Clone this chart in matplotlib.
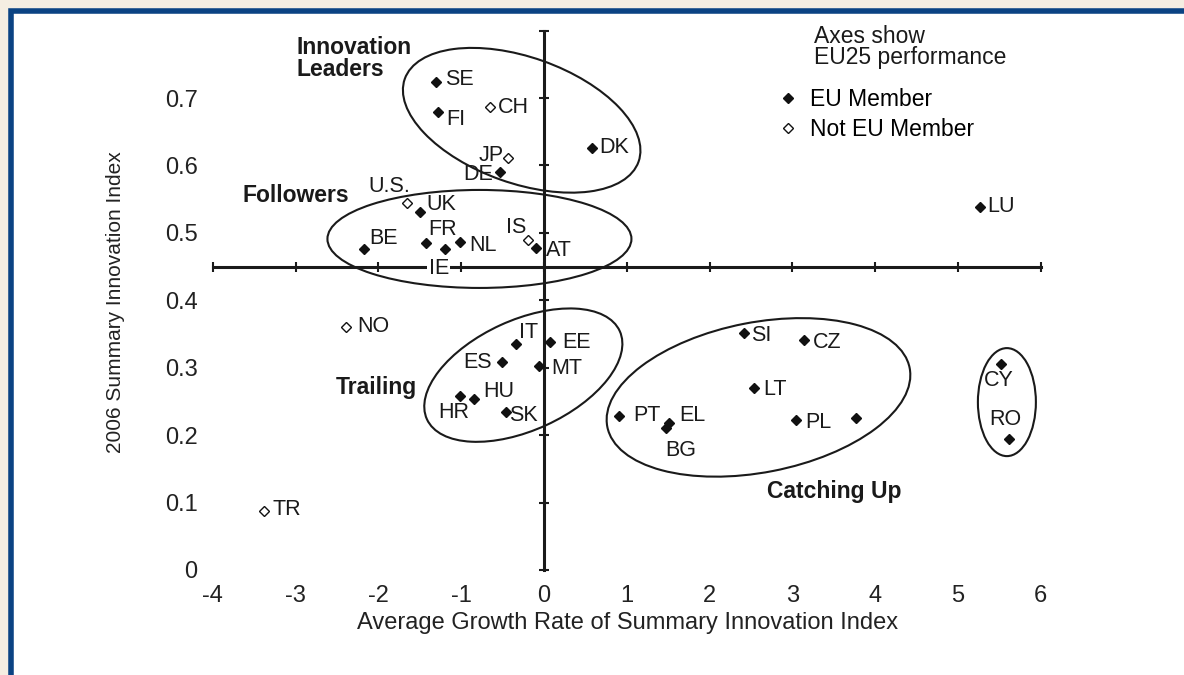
import matplotlib
matplotlib.use("Agg")
import matplotlib.pyplot as plt
import matplotlib.transforms as mtransforms
from matplotlib.patches import Ellipse, Rectangle

plt.rcParams['font.family'] = ['Liberation Sans', 'DejaVu Sans']

# ---------------------------------------------------------------
# data
# ---------------------------------------------------------------
countries = ['SE', 'FI', 'CH', 'JP', 'DE', 'DK',
             'U.S.', 'UK', 'BE', 'FR', 'IE', 'NL', 'IS', 'AT', 'LU',
             'NO', 'TR',
             'IT', 'EE', 'ES', 'MT', 'HR', 'HU', 'SK',
             'SI', 'CZ', 'LT', 'PT', 'EL', 'BG', 'PL', '',
             'CY', 'RO']
growth = [-1.30, -1.28, -0.65, -0.43, -0.53, 0.58,
          -1.66, -1.50, -2.18, -1.43, -1.20, -1.01, -0.19, -0.10, 5.27,
          -2.39, -3.38,
          -0.34, 0.07, -0.51, -0.06, -1.01, -0.85, -0.46,
          2.42, 3.14, 2.53, 0.91, 1.51, 1.47, 3.04, 3.77,
          5.52, 5.62]
sii = [0.724, 0.680, 0.687, 0.611, 0.591, 0.626,
       0.545, 0.531, 0.476, 0.485, 0.476, 0.486, 0.489, 0.477, 0.539,
       0.361, 0.088,
       0.335, 0.338, 0.308, 0.302, 0.258, 0.254, 0.234,
       0.351, 0.341, 0.270, 0.228, 0.218, 0.211, 0.222, 0.225,
       0.305, 0.194]
eu_member = [True, True, False, False, True, True,
             False, True, True, True, True, True, False, True, True,
             False, False,
             True, True, True, True, True, True, True,
             True, True, True, True, True, True, True, True,
             True, True]

eu25_growth = 0.0
eu25_sii = 0.45

x_ticks = [-4, -3, -2, -1, 0, 1, 2, 3, 4, 5, 6]
x_tick_labels = ['-4', '-3', '-2', '-1', '0', '1', '2', '3', '4', '5', '6']
y_ticks = [0, 0.1, 0.2, 0.3, 0.4, 0.5, 0.6, 0.7]
y_tick_labels = ['0', '0.1', '0.2', '0.3', '0.4', '0.5', '0.6', '0.7']
y_axis_marks = [0, 0.1, 0.2, 0.3, 0.4, 0.5, 0.6, 0.7, 0.8]

# label offsets in pixels (dx, dy, ha)
label_pos = {
    'SE': (9, 2, 'left'), 'FI': (8, -8, 'left'), 'CH': (8, -1, 'left'),
    'JP': (-5, 3, 'right'), 'DE': (-7, -3, 'right'), 'DK': (7, 0, 'left'),
    'U.S.': (4, 16, 'right'), 'UK': (7, 7, 'left'), 'BE': (6, 11, 'left'),
    'FR': (3, 13, 'left'), 'IE': (-6, -19, 'center'), 'NL': (9, -3, 'left'),
    'IS': (-2, 13, 'right'), 'AT': (10, -2, 'left'), 'LU': (7, 0, 'left'),
    'NO': (11, 0, 'left'), 'TR': (8, 1, 'left'),
    'IT': (3, 12, 'left'), 'EE': (12, 0, 'left'), 'ES': (-10, 0, 'right'),
    'MT': (12, -2, 'left'), 'HR': (-7, -16, 'center'), 'HU': (10, 7, 'left'),
    'SK': (3, -3, 'left'), 'SI': (7, -2, 'left'), 'CZ': (9, -2, 'left'),
    'LT': (10, -2, 'left'), 'PT': (14, 1, 'left'), 'EL': (10, 8, 'left'),
    'BG': (0, -23, 'left'), 'PL': (10, -2, 'left'),
    'CY': (-2, -16, 'center'), 'RO': (-4, 20, 'center'),
}

# group ellipses: centre (data), semi axes (px), angle (deg)
groups = [
    ((-0.27, 0.667), 124, 63, -19.5),
    ((-0.78, 0.491), 152, 49, 0),
    ((-0.25, 0.289), 106, 55, 24.6),
    ((2.59, 0.256), 154, 75, 11),
    ((5.59, 0.249), 29, 54, 0),
]

# ---------------------------------------------------------------
# figure
# ---------------------------------------------------------------
fig = plt.figure(figsize=(11.84, 6.75), dpi=100, facecolor='#f5eee2')
fig.patches.append(Rectangle((11.2 / 1184, -0.1), 1.2, 1.1 - 11.2 / 675,
                             transform=fig.transFigure, facecolor='white',
                             edgecolor='#0b4383', linewidth=4, zorder=-10))

ax = fig.add_axes([200.4 / 1184, 105 / 675, 857 / 1184, 539.4 / 675])
ax.set_xlim(-4.15, 6.2)
ax.set_ylim(0, 0.8)
ax.patch.set_alpha(0)
for s in ax.spines.values():
    s.set_visible(False)

ax.set_xticks(x_ticks, x_tick_labels)
ax.set_yticks(y_ticks, y_tick_labels)
ax.tick_params(axis='x', length=0, pad=11, labelsize=17, colors='#222222')
ax.tick_params(axis='y', length=0, pad=2, labelsize=17, colors='#222222')

# crossing axes at EU25 performance
ax.plot([x_ticks[0], x_ticks[-1]], [eu25_sii, eu25_sii], color='#1a1a1a', lw=2.2, zorder=1, clip_on=False)
ax.plot([eu25_growth, eu25_growth], [y_axis_marks[0], y_axis_marks[-1]], color='#1a1a1a', lw=2.2, zorder=1, clip_on=False)
ax.plot(x_ticks, [eu25_sii] * len(x_ticks), ls='none', marker='|', ms=7.5, mew=1.5, color='#1a1a1a', zorder=1, clip_on=False)
ax.plot([eu25_growth] * len(y_axis_marks), y_axis_marks, ls='none', marker='_', ms=7.5, mew=1.5, color='#1a1a1a', zorder=1, clip_on=False)

# ellipses
for (cx, cy), a, b, ang in groups:
    tr = fig.dpi_scale_trans + mtransforms.ScaledTranslation(cx, cy, ax.transData)
    ax.add_patch(Ellipse((0, 0), 2 * a / 100, 2 * b / 100, angle=ang, transform=tr,
                         fill=False, edgecolor='#1a1a1a', lw=1.5, zorder=2))

# points
xe = [g for g, m in zip(growth, eu_member) if m]
ye = [s for s, m in zip(sii, eu_member) if m]
xn = [g for g, m in zip(growth, eu_member) if not m]
yn = [s for s, m in zip(sii, eu_member) if not m]
h_eu, = ax.plot(xe, ye, ls='none', marker='D', ms=5.5, color='#111111', zorder=3, label='EU Member')
h_non, = ax.plot(xn, yn, ls='none', marker='D', ms=4.8, mfc='white', mec='#111111', mew=1,
                 zorder=3, label='Not EU Member')

for name, gx, gy in zip(countries, growth, sii):
    if not name:
        continue
    dx, dy, ha = label_pos[name]
    bbox = dict(facecolor='white', edgecolor='none', pad=1) if name == 'IE' else None
    ax.annotate(name, (gx, gy), xytext=(dx, dy), textcoords='offset pixels',
                ha=ha, va='center', fontsize=15.5, color='#1a1a1a', zorder=4, bbox=bbox)

# group names
ax.text(-2.995, 0.759, 'Innovation\nLeaders', fontsize=16.5, fontweight='bold', ha='left', va='center', linespacing=0.95, color='#1a1a1a')
ax.text(-3.647, 0.556, 'Followers', fontsize=16.5, fontweight='bold', ha='left', va='center', color='#1a1a1a')
ax.text(-2.512, 0.271, 'Trailing', fontsize=16.5, fontweight='bold', ha='left', va='center', color='#1a1a1a')
ax.text(2.693, 0.116, 'Catching Up', fontsize=16.5, fontweight='bold', ha='left', va='center', color='#1a1a1a')

ax.text(3.262, 0.776, 'Axes show\nEU25 performance', fontsize=16.5, ha='left', va='center', linespacing=0.9, color='#1a1a1a')
ax.legend(handles=[h_eu, h_non], loc='upper left', bbox_to_anchor=(777 / 1184, 1 - 88 / 675),
          bbox_transform=fig.transFigure, frameon=False, fontsize=16.5, handlelength=1,
          handletextpad=0.45, labelspacing=0.3, borderpad=0, borderaxespad=0)

fig.text(628 / 1184, 1 - 623 / 675, 'Average Growth Rate of Summary Innovation Index', fontsize=17,
         ha='center', va='center', color='#222222')
fig.text(116 / 1184, 1 - 302 / 675, '2006 Summary Innovation Index', fontsize=15,
         rotation=90, ha='center', va='center', color='#222222')

fig.savefig('out.png', dpi=100, facecolor=fig.get_facecolor())
